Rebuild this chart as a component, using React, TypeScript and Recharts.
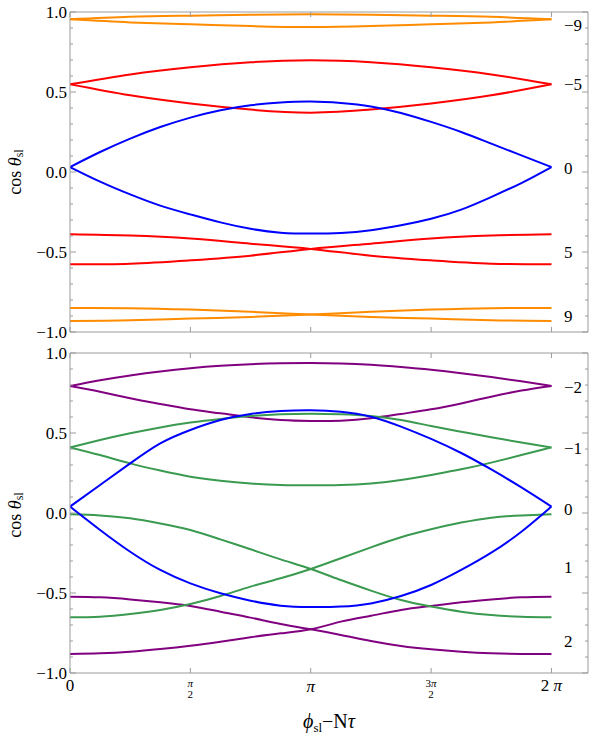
import React from 'react';
import { LineChart, Line, XAxis, YAxis, ReferenceDot } from 'recharts';

const PI = Math.PI;

// x grids (phi_sl - N tau)
const phi9 = [0, PI / 4, PI / 2, (3 * PI) / 4, PI, (5 * PI) / 4, (3 * PI) / 2, (7 * PI) / 4, 2 * PI];
const phi17 = [
  0, PI / 8, PI / 4, (3 * PI) / 8, PI / 2, (5 * PI) / 8, (3 * PI) / 4, (7 * PI) / 8, PI,
  (9 * PI) / 8, (5 * PI) / 4, (11 * PI) / 8, (3 * PI) / 2, (13 * PI) / 8, (7 * PI) / 4, (15 * PI) / 8, 2 * PI,
];

const xTickValues = [0, PI / 2, PI, (3 * PI) / 2, 2 * PI];
const yTickValues = [-1, -0.9, -0.8, -0.7, -0.6, -0.5, -0.4, -0.3, -0.2, -0.1, 0, 0.1, 0.2, 0.3, 0.4, 0.5, 0.6, 0.7, 0.8, 0.9, 1];

// ---- top panel series (cos theta_sl) ----
const topOrangeM9a = [0.954, 0.97, 0.977, 0.983, 0.986, 0.983, 0.977, 0.97, 0.954];
const topOrangeM9b = [0.954, 0.935, 0.923, 0.912, 0.906, 0.912, 0.923, 0.935, 0.954];
const topRedM5a = [0.548, 0.61, 0.655, 0.686, 0.698, 0.686, 0.655, 0.61, 0.548];
const topRedM5b = [0.548, 0.479, 0.428, 0.39, 0.371, 0.39, 0.428, 0.479, 0.548];
const topBlue0a = [0.031, 0.125, 0.209, 0.281, 0.34, 0.386, 0.417, 0.434, 0.44, 0.431, 0.41, 0.369, 0.313, 0.25, 0.177, 0.104, 0.031];
const topBlue0b = [0.031, -0.06, -0.14, -0.21, -0.265, -0.315, -0.355, -0.379, -0.385, -0.381, -0.364, -0.333, -0.292, -0.235, -0.156, -0.069, 0.031];
const topRed5a = [-0.389, -0.397, -0.416, -0.448, -0.481, -0.523, -0.552, -0.573, -0.577];
const topRed5b = [-0.577, -0.573, -0.552, -0.523, -0.481, -0.448, -0.416, -0.397, -0.389];
const topOrange9a = [-0.85, -0.851, -0.86, -0.874, -0.891, -0.906, -0.916, -0.927, -0.931];
const topOrange9b = [-0.931, -0.927, -0.916, -0.906, -0.891, -0.874, -0.86, -0.851, -0.85];

// ---- bottom panel series ----
const botPurpleM2a = [0.794, 0.83, 0.86, 0.885, 0.905, 0.92, 0.93, 0.936, 0.938, 0.935, 0.926, 0.912, 0.895, 0.874, 0.85, 0.823, 0.794];
const botPurpleM2b = [0.794, 0.758, 0.717, 0.681, 0.648, 0.623, 0.598, 0.581, 0.575, 0.577, 0.592, 0.619, 0.648, 0.685, 0.727, 0.765, 0.794];
const botGreenM1a = [0.41, 0.456, 0.498, 0.535, 0.565, 0.588, 0.606, 0.617, 0.621, 0.617, 0.606, 0.581, 0.544, 0.508, 0.473, 0.44, 0.41];
const botGreenM1b = [0.41, 0.362, 0.31, 0.265, 0.227, 0.202, 0.185, 0.175, 0.173, 0.175, 0.185, 0.206, 0.238, 0.273, 0.315, 0.362, 0.41];
const botBlue0a = [0.04, 0.175, 0.31, 0.435, 0.519, 0.581, 0.619, 0.637, 0.642, 0.633, 0.602, 0.54, 0.463, 0.375, 0.272, 0.16, 0.04];
const botBlue0b = [0.04, -0.106, -0.242, -0.356, -0.44, -0.502, -0.548, -0.579, -0.588, -0.585, -0.565, -0.519, -0.45, -0.356, -0.248, -0.117, 0.04];
const botGreen1a = [-0.008, -0.015, -0.033, -0.065, -0.106, -0.165, -0.227, -0.29, -0.35, -0.419, -0.485, -0.544, -0.585, -0.617, -0.638, -0.648, -0.652];
const botGreen1b = [-0.652, -0.648, -0.631, -0.606, -0.569, -0.519, -0.46, -0.408, -0.35, -0.283, -0.215, -0.152, -0.102, -0.06, -0.029, -0.015, -0.008];
const botPurple2a = [-0.523, -0.527, -0.54, -0.558, -0.581, -0.617, -0.654, -0.694, -0.727, -0.762, -0.8, -0.831, -0.852, -0.867, -0.877, -0.881, -0.881];
const botPurple2b = [-0.881, -0.877, -0.867, -0.85, -0.829, -0.804, -0.777, -0.752, -0.727, -0.679, -0.642, -0.606, -0.581, -0.558, -0.54, -0.527, -0.523];

// right-hand labels
const topLabelTexts = ['\u22129', '\u22125', '0', '5', '9'];
const topLabelValues = [0.917, 0.548, 0.023, -0.502, -0.902];
const botLabelTexts = ['\u22122', '\u22121', '0', '1', '2'];
const botLabelValues = [0.784, 0.402, 0.019, -0.341, -0.8];
const LABEL_X = 6.447;

const X_MAX = 6.76;

const ORANGE = '#ff8c00';
const RED = '#ff0000';
const BLUE = '#0000ff';
const PURPLE = '#800080';
const GREEN = '#3a9a50';
const GRAY = '#9b9b9b';
const FONT = '"Liberation Serif", "DejaVu Serif", serif';
const TXT: React.CSSProperties = { fontFamily: FONT };

const rows = (xs: number[], ys: number[]) => xs.map((x, i) => ({ x, y: ys[i] }));

const topSeries = [
  { xs: phi9, ys: topOrangeM9a, c: ORANGE },
  { xs: phi9, ys: topOrangeM9b, c: ORANGE },
  { xs: phi9, ys: topOrange9a, c: ORANGE },
  { xs: phi9, ys: topOrange9b, c: ORANGE },
  { xs: phi9, ys: topRedM5a, c: RED },
  { xs: phi9, ys: topRedM5b, c: RED },
  { xs: phi9, ys: topRed5a, c: RED },
  { xs: phi9, ys: topRed5b, c: RED },
  { xs: phi17, ys: topBlue0a, c: BLUE },
  { xs: phi17, ys: topBlue0b, c: BLUE },
];

const botSeries = [
  { xs: phi17, ys: botPurpleM2a, c: PURPLE },
  { xs: phi17, ys: botPurpleM2b, c: PURPLE },
  { xs: phi17, ys: botPurple2a, c: PURPLE },
  { xs: phi17, ys: botPurple2b, c: PURPLE },
  { xs: phi17, ys: botGreenM1a, c: GREEN },
  { xs: phi17, ys: botGreenM1b, c: GREEN },
  { xs: phi17, ys: botGreen1a, c: GREEN },
  { xs: phi17, ys: botGreen1b, c: GREEN },
  { xs: phi17, ys: botBlue0a, c: BLUE },
  { xs: phi17, ys: botBlue0b, c: BLUE },
];

const isMajorY = (v: number) => Math.abs(v * 2 - Math.round(v * 2)) < 1e-6;
const fmtY = (v: number) => {
  const s = Math.abs(v).toFixed(1);
  return v < -1e-9 ? '\u2212' + s : s;
};

const LeftTick = (props: any) => {
  const { x, y, payload } = props;
  const v = payload.value as number;
  const major = isMajorY(v);
  return (
    <g>
      <line x1={x} x2={x + (major ? 6 : 3)} y1={y} y2={y} stroke={GRAY} strokeWidth={1} />
      {major && (
        <text x={x - 3} y={y} textAnchor="end" dominantBaseline="central" style={TXT} fontSize={17} fill="#000">
          {fmtY(v)}
        </text>
      )}
    </g>
  );
};

const RightTick = (props: any) => {
  const { x, y, payload } = props;
  const major = isMajorY(payload.value);
  return <line x1={x - (major ? 6 : 3)} x2={x} y1={y} y2={y} stroke={GRAY} strokeWidth={1} />;
};

const TopTick = (props: any) => {
  const { x, y } = props;
  return <line x1={x} x2={x} y1={y} y2={y + 5} stroke={GRAY} strokeWidth={1} />;
};

const BottomTickPlain = (props: any) => {
  const { x, y } = props;
  return <line x1={x} x2={x} y1={y} y2={y - 5} stroke={GRAY} strokeWidth={1} />;
};

const BottomTickLabeled = (props: any) => {
  const { x, y, index } = props;
  const common = { style: TXT, fill: '#000', textAnchor: 'middle' as const, dominantBaseline: 'central' as const };
  let label: React.ReactNode = null;
  if (index === 0) {
    label = <text x={x} y={y + 12} fontSize={17} {...common}>0</text>;
  } else if (index === 1) {
    label = (
      <g>
        <text x={x} y={y + 10} fontSize={11} fontStyle="italic" {...common}>π</text>
        <text x={x} y={y + 21} fontSize={11} {...common}>2</text>
      </g>
    );
  } else if (index === 2) {
    label = <text x={x} y={y + 13} fontSize={17} fontStyle="italic" {...common}>π</text>;
  } else if (index === 3) {
    label = (
      <g>
        <text x={x} y={y + 10} fontSize={11} {...common}>3<tspan fontStyle="italic">π</tspan></text>
        <text x={x} y={y + 21} fontSize={11} {...common}>2</text>
      </g>
    );
  } else if (index === 4) {
    label = <text x={x} y={y + 12} fontSize={17} {...common}>2 <tspan fontStyle="italic">π</tspan></text>;
  }
  return (
    <g>
      <line x1={x} x2={x} y1={y} y2={y - 5} stroke={GRAY} strokeWidth={1} />
      {label}
    </g>
  );
};

const YTitle = ({ cy }: { cy: number }) => (
  <text
    x={15}
    y={cy}
    transform={`rotate(-90, 15, ${cy})`}
    textAnchor="middle"
    dominantBaseline="central"
    style={TXT}
    fontSize={18}
    fill="#000"
  >
    cos <tspan fontStyle="italic">θ</tspan>
    <tspan fontSize={12} dy={4}>sl</tspan>
  </text>
);

const RightLabel = (text: string) => (props: any) => {
  const vb = props.viewBox || {};
  const cx = (vb.x ?? 0) + (vb.width ?? 0) / 2;
  const cy = (vb.y ?? 0) + (vb.height ?? 0) / 2;
  return (
    <text x={cx} y={cy} textAnchor="start" dominantBaseline="central" style={TXT} fontSize={17} fill="#000">
      {text}
    </text>
  );
};

type Props = {
  height: number;
  topH: number;
  bottomH: number;
  series: { xs: number[]; ys: number[]; c: string }[];
  labelTexts: string[];
  labelValues: number[];
  labeledX: boolean;
  yTitleCy: number;
};

const Panel = ({ height, topH, bottomH, series, labelTexts, labelValues, labeledX, yTitleCy }: Props) => (
  <LineChart width={600} height={height} margin={{ top: 0, right: 0, bottom: 0, left: 0 }}>
    <XAxis
      xAxisId="b"
      dataKey="x"
      type="number"
      domain={[0, X_MAX]}
      allowDataOverflow
      ticks={xTickValues}
      interval={0}
      orientation="bottom"
      height={bottomH}
      tickSize={0}
      tickMargin={0}
      tickLine={false}
      axisLine={{ stroke: GRAY, strokeWidth: 1 }}
      tick={labeledX ? BottomTickLabeled : BottomTickPlain}
      label={
        labeledX
          ? {
              content: () => (
                <text x={329} y={388} textAnchor="middle" style={TXT} fontSize={20} fill="#000">
                  <tspan fontStyle="italic">ϕ</tspan>
                  <tspan fontSize={13} dy={4}>sl</tspan>
                  <tspan dy={-4}>{'\u2212N'}</tspan>
                  <tspan fontStyle="italic">τ</tspan>
                </text>
              ),
            }
          : undefined
      }
    />
    <XAxis
      xAxisId="t"
      dataKey="x"
      type="number"
      domain={[0, X_MAX]}
      allowDataOverflow
      ticks={xTickValues}
      interval={0}
      orientation="top"
      height={topH}
      tickSize={0}
      tickMargin={0}
      tickLine={false}
      axisLine={{ stroke: GRAY, strokeWidth: 1 }}
      tick={TopTick}
    />
    <YAxis
      yAxisId="l"
      type="number"
      domain={[-1, 1]}
      allowDataOverflow
      ticks={yTickValues}
      interval={0}
      orientation="left"
      width={70}
      tickSize={0}
      tickMargin={0}
      tickLine={false}
      axisLine={{ stroke: GRAY, strokeWidth: 1 }}
      tick={LeftTick}
      label={{ content: () => <YTitle cy={yTitleCy} /> }}
    />
    <YAxis
      yAxisId="r"
      type="number"
      domain={[-1, 1]}
      allowDataOverflow
      ticks={yTickValues}
      interval={0}
      orientation="right"
      width={12}
      tickSize={0}
      tickMargin={0}
      tickLine={false}
      axisLine={{ stroke: GRAY, strokeWidth: 1 }}
      tick={RightTick}
    />
    {series.map((s, i) => (
      <Line
        key={i}
        xAxisId="b"
        yAxisId="l"
        data={rows(s.xs, s.ys)}
        dataKey="y"
        type="natural"
        stroke={s.c}
        strokeWidth={2}
        dot={false}
        activeDot={false}
        isAnimationActive={false}
      />
    ))}
    {labelTexts.map((t, i) => (
      <ReferenceDot
        key={'lab' + i}
        xAxisId="b"
        yAxisId="l"
        x={LABEL_X}
        y={labelValues[i]}
        r={0}
        fill="none"
        stroke="none"
        ifOverflow="visible"
        label={{ content: RightLabel(t) }}
      />
    ))}
  </LineChart>
);

export default function App() {
  return (
    <div style={{ position: 'absolute', left: 0, top: 0, width: 600, height: 736, background: '#fff', fontFamily: FONT }}>
      <div style={{ position: 'absolute', left: 0, top: 0 }}>
        <Panel
          height={340}
          topH={12}
          bottomH={8}
          series={topSeries}
          labelTexts={topLabelTexts}
          labelValues={topLabelValues}
          labeledX={false}
          yTitleCy={172}
        />
      </div>
      <div style={{ position: 'absolute', left: 0, top: 340 }}>
        <Panel
          height={396}
          topH={13}
          bottomH={63}
          series={botSeries}
          labelTexts={botLabelTexts}
          labelValues={botLabelValues}
          labeledX={true}
          yTitleCy={175}
        />
      </div>
    </div>
  );
}
